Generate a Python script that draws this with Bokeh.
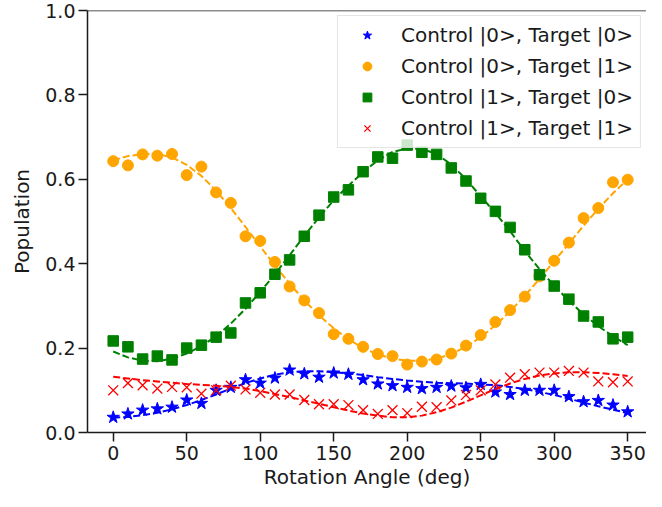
from bokeh.plotting import figure
from bokeh.models import FixedTicker, PrintfTickFormatter, Legend, LegendItem, Range1d, Span
from bokeh.embed import file_html
from bokeh.resources import INLINE

# ---------------- data ----------------
angles = [0, 10, 20, 30, 40, 50, 60, 70, 80, 90, 100, 110, 120, 130, 140, 150, 160, 170,
          180, 190, 200, 210, 220, 230, 240, 250, 260, 270, 280, 290, 300, 310, 320, 330, 340, 350]

c0t0 = [0.036, 0.044, 0.053, 0.056, 0.060, 0.077, 0.069, 0.100, 0.107, 0.125, 0.117, 0.129,
        0.148, 0.139, 0.131, 0.141, 0.138, 0.125, 0.115, 0.111, 0.107, 0.104, 0.107, 0.110,
        0.106, 0.114, 0.096, 0.090, 0.100, 0.100, 0.100, 0.085, 0.073, 0.076, 0.065, 0.049]
c0t1 = [0.643, 0.633, 0.659, 0.656, 0.660, 0.610, 0.630, 0.569, 0.544, 0.465, 0.454, 0.404,
        0.346, 0.313, 0.283, 0.233, 0.222, 0.203, 0.186, 0.181, 0.161, 0.168, 0.173, 0.187,
        0.206, 0.231, 0.262, 0.290, 0.322, 0.370, 0.407, 0.450, 0.508, 0.532, 0.593, 0.599]
c1t0 = [0.217, 0.203, 0.174, 0.181, 0.172, 0.200, 0.207, 0.226, 0.236, 0.307, 0.331, 0.375,
        0.409, 0.465, 0.515, 0.558, 0.575, 0.618, 0.653, 0.650, 0.681, 0.664, 0.659, 0.627,
        0.596, 0.555, 0.524, 0.486, 0.433, 0.374, 0.347, 0.316, 0.276, 0.262, 0.222, 0.226]
c1t1 = [0.100, 0.117, 0.112, 0.104, 0.108, 0.107, 0.092, 0.100, 0.111, 0.102, 0.094, 0.090,
        0.090, 0.077, 0.067, 0.067, 0.065, 0.053, 0.044, 0.053, 0.046, 0.061, 0.060, 0.076,
        0.089, 0.100, 0.114, 0.130, 0.138, 0.142, 0.142, 0.146, 0.142, 0.121, 0.119, 0.121]

fit_c0t0 = [0.035, 0.037, 0.041, 0.047, 0.055, 0.065, 0.077, 0.090, 0.104, 0.117, 0.128, 0.137,
            0.143, 0.145, 0.145, 0.143, 0.140, 0.136, 0.131, 0.127, 0.123, 0.120, 0.118, 0.117,
            0.116, 0.114, 0.112, 0.108, 0.103, 0.096, 0.089, 0.080, 0.071, 0.062, 0.054, 0.046]
fit_c0t1 = [0.645, 0.655, 0.660, 0.660, 0.652, 0.634, 0.608, 0.573, 0.532, 0.487, 0.441, 0.396,
            0.353, 0.313, 0.278, 0.247, 0.221, 0.200, 0.185, 0.175, 0.170, 0.170, 0.175, 0.186,
            0.203, 0.226, 0.254, 0.287, 0.324, 0.364, 0.406, 0.448, 0.490, 0.530, 0.567, 0.600]
fit_c1t0 = [0.192, 0.178, 0.170, 0.169, 0.175, 0.187, 0.205, 0.228, 0.258, 0.293, 0.333, 0.375,
            0.420, 0.466, 0.510, 0.550, 0.585, 0.617, 0.645, 0.665, 0.673, 0.672, 0.660, 0.635,
            0.600, 0.560, 0.520, 0.477, 0.430, 0.387, 0.348, 0.312, 0.280, 0.252, 0.228, 0.207]
fit_c1t1 = [0.132, 0.128, 0.124, 0.121, 0.118, 0.115, 0.113, 0.111, 0.108, 0.104, 0.098, 0.091,
            0.084, 0.076, 0.068, 0.060, 0.052, 0.045, 0.040, 0.036, 0.036, 0.040, 0.048, 0.059,
            0.073, 0.088, 0.103, 0.116, 0.127, 0.135, 0.140, 0.143, 0.143, 0.141, 0.138, 0.134]

labels = ["Control |0>, Target |0>", "Control |0>, Target |1>",
          "Control |1>, Target |0>", "Control |1>, Target |1>"]
x_ticks = [0, 50, 100, 150, 200, 250, 300, 350]
y_ticks = [0.0, 0.2, 0.4, 0.6, 0.8, 1.0]

FONT = "DejaVu Sans"
INK = "#1a1a1a"

p = figure(width=646, height=491, output_backend="svg", toolbar_location=None,
           x_range=Range1d(-17.5, 362.8), y_range=Range1d(0, 1),
           min_border_left=87, min_border_right=0, min_border_top=10, min_border_bottom=0)
p.xgrid.visible = False
p.ygrid.visible = False
p.outline_line_color = None

p.xaxis.ticker = FixedTicker(ticks=x_ticks)
p.yaxis.ticker = FixedTicker(ticks=y_ticks)
p.yaxis.formatter = PrintfTickFormatter(format="%.1f")
p.xaxis.axis_label = "Rotation Angle (deg)"
p.yaxis.axis_label = "Population"

for ax in [p.xaxis[0], p.yaxis[0]]:
    ax.minor_tick_line_color = None
    ax.major_tick_out = 9
    ax.major_tick_in = 0
    ax.major_tick_line_width = 1.5
    ax.major_tick_line_color = INK
    ax.axis_line_width = 1.5
    ax.axis_line_color = INK
    ax.major_label_text_font = FONT
    ax.major_label_text_font_size = "19px"
    ax.major_label_text_color = INK
    ax.axis_label_text_font = FONT
    ax.axis_label_text_font_size = "20px"
    ax.axis_label_text_font_style = "normal"
    ax.axis_label_text_color = INK

p.xaxis.major_label_standoff = 4
p.xaxis.axis_label_standoff = 2
p.yaxis.major_label_standoff = 3
p.yaxis.axis_label_standoff = 8

p.add_layout(Span(location=1.0, dimension="width", line_color=INK, line_width=1.5))

dash = "7 3"
p.line(angles, fit_c0t0, line_color="blue", line_width=2, line_dash=dash)
r0 = p.scatter(angles, c0t0, marker="star", size=13, color="blue")
p.line(angles, fit_c0t1, line_color="orange", line_width=2, line_dash=dash)
r1 = p.scatter(angles, c0t1, marker="circle", size=11, color="orange")
p.line(angles, fit_c1t0, line_color="green", line_width=2, line_dash=dash)
r2 = p.scatter(angles, c1t0, marker="square", size=10.5, color="green")
p.line(angles, fit_c1t1, line_color="red", line_width=2, line_dash=dash)
r3 = p.scatter(angles, c1t1, marker="x", size=14, line_color="red", line_width=1.3)

legend = Legend(items=[LegendItem(label=labels[0], renderers=[r0]),
                       LegendItem(label=labels[1], renderers=[r1]),
                       LegendItem(label=labels[2], renderers=[r2]),
                       LegendItem(label=labels[3], renderers=[r3])],
                location="top_right", label_text_font=FONT, label_text_font_size="20px",
                label_text_color=INK, glyph_width=44, glyph_height=22, label_height=22,
                spacing=7, padding=7, label_standoff=12, margin=5,
                border_line_color="#cccccc", border_line_width=1,
                background_fill_color="white", background_fill_alpha=0.8)
p.add_layout(legend)

open("out.html", "w").write(file_html(p, INLINE))
